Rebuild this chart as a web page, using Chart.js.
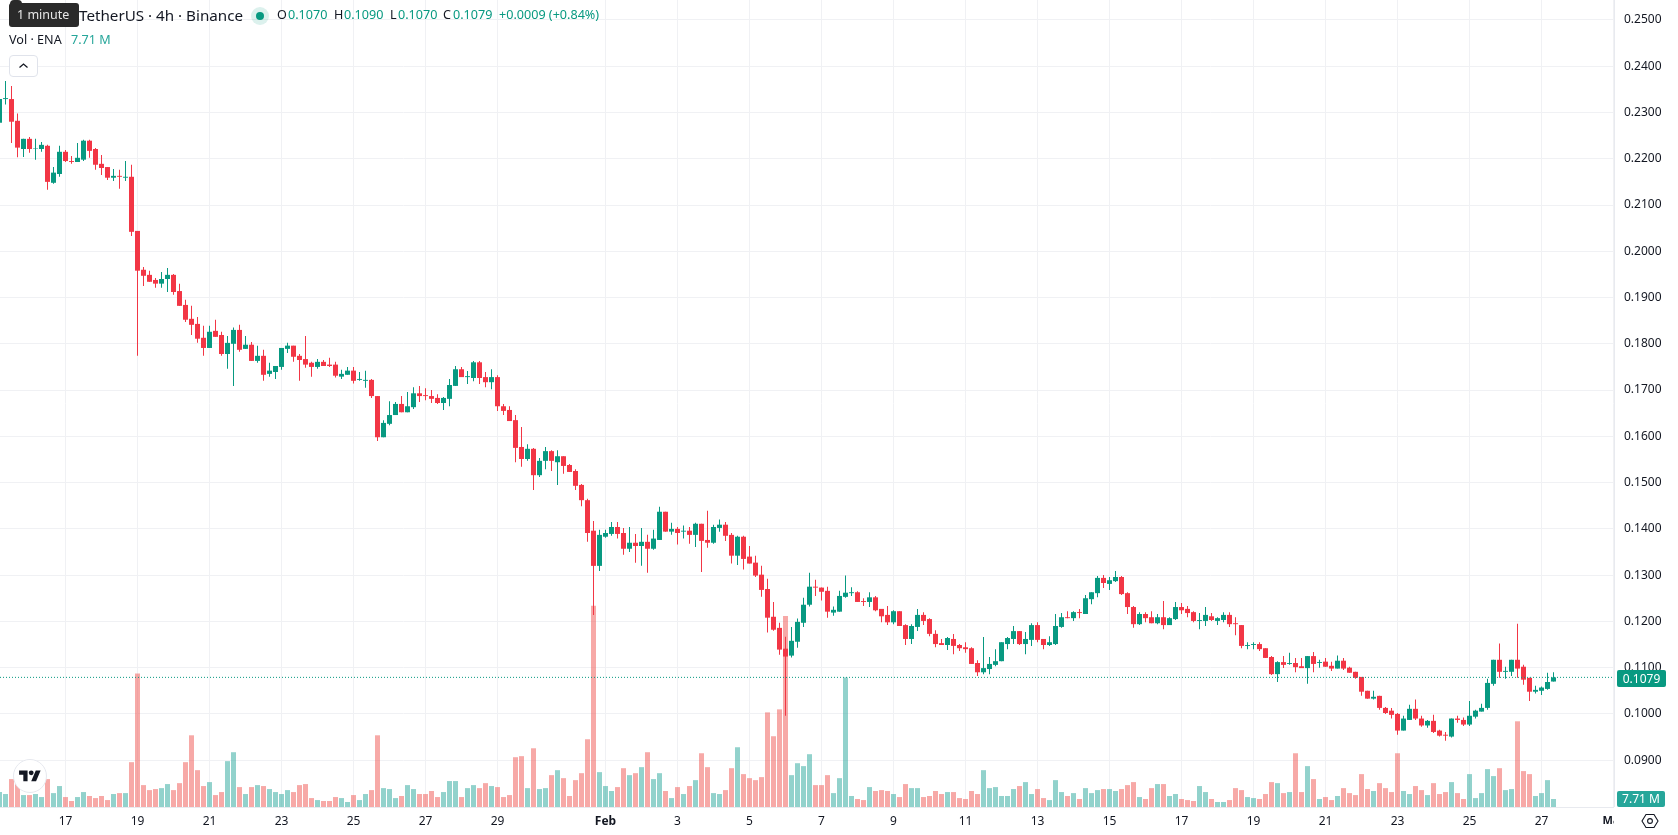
<!DOCTYPE html>
<html>
<head>
<meta charset="utf-8">
<title>ENA / TetherUS 4h</title>
<script src="https://cdn.jsdelivr.net/npm/chart.js@4/dist/chart.umd.min.js"></script>
<style>
  html, body { margin: 0; padding: 0; background: #fff; overflow: hidden; }
  #stage { position: relative; width: 1678px; height: 835px; font-family: "Noto Sans", sans-serif; color: #131722; }
  #stage canvas { position: absolute; left: 0; top: 0; }
  .t { position: absolute; white-space: nowrap; line-height: 1; }
  .up { color: #089981; }
  .box { position: absolute; color: #fff; font-size: 12px; text-align: center; border-radius: 2px; }
</style>
</head>
<body>
<div id="stage">
  <canvas id="chart" width="1678" height="835"></canvas>

  <span class="t" style="left:79px;top:8px;font-size:15.2px;">TetherUS · 4h · Binance</span>
  <div style="position:absolute;left:9px;top:3px;width:70px;height:24px;background:#2a2a2a;border-radius:3px;"></div>
  <div style="position:absolute;left:10px;top:0;width:12px;height:4px;background:#2a2a2a;border-radius:6px 6px 0 0;"></div>
  <span class="t" style="left:17px;top:9px;font-size:12.5px;color:#e6e6e6;">1 minute</span>

  <div style="position:absolute;left:251px;top:7px;width:18px;height:18px;border-radius:50%;background:rgba(8,153,129,.14);"></div>
  <div style="position:absolute;left:256px;top:12px;width:8px;height:8px;border-radius:50%;background:#089981;"></div>

  <span class="t" style="left:277px;top:9px;font-size:12.6px;">O</span><span class="t up" style="left:288px;top:9px;font-size:12.6px;">0.1070</span>
  <span class="t" style="left:334px;top:9px;font-size:12.6px;">H</span><span class="t up" style="left:344px;top:9px;font-size:12.6px;">0.1090</span>
  <span class="t" style="left:390px;top:9px;font-size:12.6px;">L</span><span class="t up" style="left:398px;top:9px;font-size:12.6px;">0.1070</span>
  <span class="t" style="left:443px;top:9px;font-size:12.6px;">C</span><span class="t up" style="left:453px;top:9px;font-size:12.6px;">0.1079</span>
  <span class="t up" style="left:499px;top:9px;font-size:12.6px;">+0.0009 (+0.84%)</span>

  <span class="t" style="left:9px;top:34px;font-size:12.6px;">Vol · ENA</span>
  <span class="t" style="left:71px;top:34px;font-size:12.6px;color:#26a69a;">7.71 M</span>

  <div style="position:absolute;left:9px;top:55px;width:27px;height:20px;border:1px solid #e0e3eb;border-radius:4px;background:#fff;">
    <svg width="27" height="20" viewBox="0 0 27 20"><path d="M9.5 11.5 L13.5 8 L17.5 11.5" fill="none" stroke="#131722" stroke-width="1.3"/></svg>
  </div>

  <div style="position:absolute;left:13px;top:759px;width:32px;height:32px;border-radius:50%;background:#fff;border:1px solid #e6e8ee;">
    <svg style="position:absolute;left:5px;top:8px;" width="22" height="17" viewBox="0 0 36 28">
      <path d="M14 22H7V11H0V4h14v18zM28 22h-8l7.5-18h8L28 22z" fill="#131722"/><circle cx="20" cy="8" r="4" fill="#131722"/>
    </svg>
  </div>

  <div class="box" style="left:1617px;top:670px;width:49px;height:17px;line-height:17px;background:#089981;">0.1079</div>
  <div class="box" style="left:1617px;top:791px;width:48px;height:16px;line-height:16px;background:#26a69a;">7.71 M</div>

  <div style="position:absolute;left:1614px;top:807px;width:64px;height:28px;background:#fff;">
    <svg style="position:absolute;left:27px;top:5px;" width="18" height="18" viewBox="0 0 18 18">
      <path d="M5 2.5h8L17 9l-4 6.5H5L1 9z" fill="none" stroke="#131722" stroke-width="1.1"/><circle cx="9" cy="9" r="2.4" fill="none" stroke="#131722" stroke-width="1.1"/>
    </svg>
  </div>
</div>

<script>
// 4h candles, oldest first; volumes in millions of ENA
const opens = [
  .2278,.2329,.2329,.2282,.2221,.2243,.2222,.2221,.2228,.2148,
  .2167,.2215,.2195,.2193,.2198,.2239,.2221,.2189,.2182,.2159,
  .2163,.2159,.2161,.2044,.1960,.1949,.1938,.1930,.1940,.1949,
  .1914,.1884,.1854,.1843,.1813,.1791,.1828,.1819,.1778,.1800,
  .1830,.1789,.1798,.1763,.1774,.1735,.1739,.1750,.1789,.1796,
  .1774,.1767,.1759,.1750,.1761,.1755,.1755,.1729,.1733,.1742,
  .1722,.1720,.1722,.1687,.1598,.1627,.1646,.1670,.1652,.1663,
  .1693,.1689,.1687,.1683,.1672,.1681,.1709,.1745,.1728,.1726,
  .1760,.1728,.1717,.1728,.1665,.1657,.1635,.1577,.1551,.1573,
  .1516,.1547,.1568,.1544,.1557,.1538,.1525,.1495,.1462,.1396,
  .1320,.1383,.1389,.1404,.1391,.1357,.1370,.1363,.1372,.1357,
  .1376,.1437,.1394,.1400,.1394,.1396,.1387,.1411,.1376,.1370,
  .1402,.1409,.1387,.1342,.1383,.1340,.1327,.1301,.1270,.1210,
  .1186,.1141,.1126,.1156,.1197,.1236,.1275,.1273,.1266,.1219,
  .1221,.1253,.1261,.1263,.1244,.1242,.1252,.1227,.1214,.1198,
  .1222,.1192,.1162,.1188,.1214,.1205,.1173,.1153,.1149,.1162,
  .1149,.1144,.1142,.1110,.1090,.1097,.1106,.1114,.1151,.1162,
  .1179,.1151,.1160,.1192,.1162,.1149,.1151,.1188,.1209,.1207,
  .1220,.1216,.1248,.1261,.1294,.1281,.1287,.1296,.1261,.1231,
  .1194,.1216,.1209,.1196,.1209,.1192,.1205,.1231,.1227,.1220,
  .1201,.1201,.1211,.1201,.1203,.1214,.1196,.1192,.1147,.1149,
  .1151,.1142,.1123,.1086,.1112,.1108,.1110,.1103,.1099,.1125,
  .1110,.1113,.1104,.1098,.1115,.1100,.1091,.1080,.1050,.1033,
  .1039,.1013,.1007,.1000,.0964,.0987,.1011,.0990,.0975,.0985,
  .0964,.0955,.0951,.0990,.0987,.0977,.0994,.1005,.1013,.1065,
  .1117,.1091,.1091,.1117,.1102,.1078,.1048,.1050,.1054,.1070
];
const highs = [
  .2335,.2368,.2357,.2298,.2243,.2247,.2243,.2236,.2230,.2182,
  .2228,.2219,.2206,.2234,.2241,.2241,.2223,.2208,.2182,.2178,
  .2176,.2195,.2187,.2044,.1966,.1958,.1942,.1955,.1964,.1951,
  .1930,.1895,.1882,.1858,.1839,.1839,.1852,.1826,.1817,.1835,
  .1841,.1817,.1804,.1796,.1787,.1759,.1752,.1791,.1802,.1796,
  .1778,.1817,.1761,.1767,.1765,.1770,.1761,.1744,.1750,.1750,
  .1739,.1742,.1724,.1687,.1635,.1676,.1674,.1687,.1696,.1706,
  .1709,.1704,.1700,.1691,.1685,.1724,.1752,.1750,.1741,.1763,
  .1763,.1739,.1745,.1732,.1670,.1665,.1646,.1620,.1583,.1575,
  .1553,.1577,.1570,.1570,.1557,.1540,.1529,.1497,.1465,.1417,
  .1398,.1398,.1415,.1415,.1402,.1404,.1389,.1402,.1387,.1398,
  .1448,.1437,.1413,.1404,.1407,.1404,.1413,.1411,.1439,.1409,
  .1420,.1415,.1391,.1385,.1385,.1363,.1342,.1320,.1292,.1242,
  .1197,.1167,.1188,.1206,.1251,.1305,.1290,.1273,.1275,.1232,
  .1266,.1299,.1274,.1265,.1250,.1263,.1255,.1227,.1233,.1224,
  .1222,.1194,.1194,.1227,.1220,.1207,.1181,.1162,.1166,.1173,
  .1151,.1155,.1144,.1116,.1166,.1123,.1140,.1155,.1166,.1190,
  .1179,.1177,.1196,.1198,.1162,.1168,.1216,.1218,.1222,.1222,
  .1227,.1257,.1263,.1298,.1300,.1296,.1309,.1298,.1263,.1233,
  .1220,.1220,.1222,.1216,.1244,.1209,.1242,.1240,.1233,.1222,
  .1218,.1231,.1218,.1209,.1220,.1220,.1209,.1192,.1155,.1155,
  .1155,.1142,.1125,.1114,.1125,.1132,.1121,.1121,.1125,.1134,
  .1117,.1121,.1113,.1126,.1121,.1102,.1091,.1080,.1050,.1050,
  .1039,.1015,.1013,.1002,.0996,.1020,.1031,.0996,.0987,.0998,
  .0966,.0961,.0990,.0996,.0992,.1028,.1009,.1022,.1076,.1117,
  .1152,.1102,.1117,.1195,.1106,.1078,.1061,.1059,.1089,.1090
];
const lows = [
  .2260,.2317,.2234,.2203,.2204,.2213,.2198,.2215,.2133,.2146,
  .2161,.2193,.2189,.2193,.2195,.2202,.2176,.2165,.2154,.2152,
  .2135,.2152,.2033,.1774,.1925,.1934,.1921,.1921,.1912,.1906,
  .1882,.1847,.1819,.1802,.1774,.1791,.1815,.1774,.1746,.1709,
  .1783,.1789,.1763,.1759,.1720,.1729,.1724,.1744,.1780,.1761,
  .1720,.1748,.1729,.1746,.1752,.1750,.1727,.1724,.1733,.1714,
  .1720,.1705,.1683,.1590,.1598,.1624,.1646,.1652,.1652,.1659,
  .1674,.1678,.1672,.1670,.1657,.1665,.1709,.1728,.1713,.1719,
  .1713,.1706,.1702,.1655,.1646,.1633,.1544,.1534,.1547,.1484,
  .1512,.1529,.1525,.1495,.1519,.1523,.1484,.1449,.1372,.1214,
  .1309,.1381,.1385,.1379,.1344,.1350,.1327,.1320,.1305,.1355,
  .1376,.1394,.1387,.1366,.1379,.1368,.1361,.1307,.1359,.1368,
  .1394,.1374,.1325,.1322,.1312,.1325,.1296,.1253,.1176,.1180,
  .1128,.0996,.1122,.1143,.1188,.1232,.1255,.1245,.1208,.1212,
  .1221,.1251,.1255,.1242,.1233,.1231,.1222,.1198,.1192,.1194,
  .1190,.1149,.1151,.1179,.1192,.1168,.1144,.1149,.1138,.1129,
  .1136,.1132,.1108,.1082,.1086,.1086,.1103,.1114,.1140,.1151,
  .1149,.1129,.1147,.1155,.1140,.1147,.1149,.1186,.1207,.1201,
  .1207,.1216,.1237,.1252,.1272,.1268,.1285,.1257,.1216,.1186,
  .1192,.1198,.1196,.1194,.1183,.1192,.1203,.1216,.1209,.1198,
  .1183,.1190,.1201,.1192,.1198,.1188,.1170,.1142,.1140,.1140,
  .1136,.1121,.1084,.1069,.1099,.1106,.1090,.1099,.1065,.1090,
  .1100,.1102,.1093,.1098,.1095,.1089,.1076,.1039,.1033,.1031,
  .1009,.1000,.0990,.0955,.0964,.0987,.0987,.0972,.0970,.0959,
  .0951,.0942,.0949,.0981,.0974,.0974,.0990,.1005,.1009,.1061,
  .1078,.1076,.1082,.1078,.1063,.1028,.1044,.1041,.1052,.1070
];
const closes = [
  .2329,.2331,.2280,.2224,.2243,.2221,.2223,.2230,.2150,.2170,
  .2215,.2195,.2193,.2202,.2239,.2217,.2187,.2180,.2159,.2163,
  .2161,.2161,.2042,.1958,.1947,.1934,.1930,.1940,.1949,.1912,
  .1882,.1852,.1841,.1811,.1791,.1826,.1815,.1778,.1802,.1830,
  .1787,.1798,.1763,.1774,.1733,.1742,.1752,.1791,.1796,.1772,
  .1765,.1755,.1750,.1761,.1752,.1752,.1731,.1735,.1742,.1720,
  .1724,.1722,.1687,.1598,.1629,.1646,.1670,.1652,.1665,.1693,
  .1687,.1687,.1681,.1672,.1683,.1711,.1745,.1728,.1730,.1760,
  .1726,.1717,.1728,.1665,.1655,.1633,.1575,.1551,.1573,.1516,
  .1547,.1568,.1547,.1557,.1536,.1523,.1493,.1462,.1391,.1320,
  .1387,.1391,.1404,.1389,.1357,.1370,.1363,.1372,.1357,.1379,
  .1437,.1394,.1400,.1391,.1396,.1387,.1411,.1374,.1370,.1404,
  .1409,.1385,.1342,.1383,.1335,.1325,.1299,.1268,.1208,.1182,
  .1139,.1124,.1158,.1199,.1236,.1275,.1273,.1264,.1221,.1225,
  .1255,.1262,.1263,.1242,.1242,.1252,.1224,.1211,.1198,.1222,
  .1190,.1162,.1190,.1214,.1201,.1173,.1151,.1149,.1164,.1147,
  .1142,.1140,.1108,.1090,.1099,.1108,.1114,.1155,.1164,.1179,
  .1151,.1162,.1192,.1160,.1149,.1155,.1190,.1209,.1207,.1220,
  .1218,.1250,.1263,.1294,.1283,.1289,.1296,.1259,.1231,.1194,
  .1216,.1207,.1196,.1209,.1192,.1207,.1231,.1224,.1218,.1201,
  .1203,.1214,.1203,.1207,.1214,.1194,.1194,.1147,.1149,.1151,
  .1140,.1121,.1086,.1112,.1106,.1110,.1101,.1099,.1125,.1108,
  .1112,.1102,.1098,.1115,.1098,.1089,.1078,.1048,.1033,.1037,
  .1013,.1002,.0998,.0964,.0990,.1011,.0990,.0975,.0985,.0961,
  .0953,.0953,.0990,.0987,.0977,.0996,.1007,.1013,.1067,.1117,
  .1091,.1093,.1117,.1098,.1074,.1048,.1052,.1057,.1069,.1079
];
const volumes = [
  14.4,12.5,26.9,22.1,11.5,11.5,12.5,9.6,26.9,13.4,
  20.2,9.6,5.8,9.6,14.4,10.6,8.6,10.6,6.7,12.5,
  13.4,13.4,43.2,128.6,21.1,16.3,17.3,18.2,22.1,16.3,
  23.0,43.2,69.1,35.5,20.2,24.0,11.5,14.4,44.2,52.8,
  19.2,12.5,19.2,21.1,20.2,17.3,14.4,12.5,16.3,14.4,
  21.1,22.1,8.6,6.7,5.8,5.8,9.6,8.6,4.8,11.5,
  6.7,12.5,16.3,69.1,18.2,17.3,8.6,10.6,21.1,17.3,
  12.5,12.5,15.4,9.6,14.4,25.0,25.0,9.6,18.2,21.1,
  18.2,23.0,20.2,19.2,9.6,11.5,48.0,49.0,18.2,56.6,
  17.3,18.2,30.7,35.5,27.8,10.6,25.9,32.6,65.3,194,
  33.6,20.2,15.4,19.2,37.4,30.7,32.6,38.4,52.8,26.9,
  32.6,15.4,8.6,19.2,12.5,20.2,25.9,51.8,38.4,13.4,
  12.5,16.3,37.4,57.6,31.7,27.8,25.9,28.8,91.2,68.2,
  94.1,184,30.7,42.2,39.4,50.9,21.1,21.1,30.7,13.4,
  27.8,124.8,10.6,7.7,6.7,19.2,15.4,16.3,15.4,12.5,
  9.6,22.1,18.2,18.2,9.6,10.6,15.4,12.5,14.4,14.4,
  8.6,7.7,15.4,12.5,35.5,18.2,19.2,10.6,10.6,17.3,
  20.2,24.0,12.5,17.3,8.6,6.7,25.9,14.4,10.6,13.4,
  7.7,18.2,13.4,16.3,17.3,17.3,15.4,17.3,21.1,24.0,
  9.6,7.7,18.2,22.1,22.1,10.6,12.5,7.7,6.7,5.8,
  20.2,14.4,7.7,4.8,4.8,6.7,18.2,16.3,9.6,8.6,
  7.7,12.5,24.0,23.0,13.4,14.4,51.8,14.4,39.4,26.9,
  7.7,9.6,6.7,10.6,18.2,13.4,11.5,31.7,17.3,15.4,
  23.0,18.2,14.4,51.8,15.4,12.5,20.2,16.3,11.5,23.0,
  12.5,14.4,24.0,13.4,7.7,31.7,8.6,13.4,36.5,29.8,
  37.4,16.3,17.3,82.6,34.6,31.7,10.6,13.4,25.9,7.71
];
const lastPrice = 0.1079;
const priceTicks = [0.09,0.10,0.11,0.12,0.13,0.14,0.15,0.16,0.17,0.18,0.19,0.20,0.21,0.22,0.23,0.24,0.25];
const dateLabels = ['17','19','21','23','25','27','29','Feb','3','5','7','9','11','13','15','17','19','21','23','25','27','Mar'];
const dateCandles = [11,23,35,47,59,71,83,101,113,125,137,149,161,173,185,197,209,221,233,245,257,269];

const RED = '#f23645', GREEN = '#089981';
const VOL_RED = 'rgba(239,83,80,.5)', VOL_GREEN = 'rgba(38,166,154,.5)';
const GRID = '#f0f1f4', FONT = '"Noto Sans", sans-serif';
const indexMin = 1 / 12, indexMax = 269 + 1 / 12;

const index = opens.map((_, i) => i);
const isUp = i => closes[i] >= opens[i];
const candleColors = index.map(i => isUp(i) ? GREEN : RED);
const volumeColors = index.map(i => isUp(i) ? VOL_GREEN : VOL_RED);

new Chart(document.getElementById('chart'), {
  type: 'bar',
  data: {
    datasets: [
      { label: 'Volume', yAxisID: 'vol', order: 3, barThickness: 5,
        backgroundColor: volumeColors,
        data: index.map(i => ({ x: i, y: volumes[i] })) },
      { label: 'High-Low', yAxisID: 'y', order: 2, barThickness: 1,
        backgroundColor: candleColors,
        data: index.map(i => ({ x: i, y: [lows[i], highs[i]] })) },
      { label: 'Open-Close', yAxisID: 'y', order: 1, barThickness: 5,
        backgroundColor: candleColors,
        data: index.map(i => ({ x: i, y: [opens[i], closes[i]] })) },
      { type: 'line', label: 'Last', yAxisID: 'y', order: 0,
        borderColor: GREEN, borderWidth: 1, borderDash: [1, 2],
        pointRadius: 0,
        data: [{ x: indexMin, y: lastPrice }, { x: indexMax, y: lastPrice }] }
    ]
  },
  options: {
    responsive: false,
    animation: false,
    events: [],
    layout: { padding: 0 },
    datasets: { bar: { grouped: false, borderWidth: 0, borderSkipped: false, inflateAmount: 0 } },
    plugins: { legend: { display: false }, tooltip: { enabled: false }, title: { display: false } },
    scales: {
      x: {
        type: 'linear', offset: false, bounds: 'data',
        min: indexMin, max: indexMax,
        afterBuildTicks: s => { s.ticks = dateCandles.map(v => ({ value: v })); },
        afterFit: s => { s.height = 28; s.paddingLeft = 0; s.paddingRight = 0; },
        grid: { offset: false, color: GRID, drawTicks: false },
        border: { display: true, color: '#e8eaef' },
        ticks: {
          autoSkip: false, maxRotation: 0, padding: 7, color: '#131722',
          callback: v => dateLabels[dateCandles.indexOf(v)],
          font: c => {
            const name = c.tick ? dateLabels[dateCandles.indexOf(c.tick.value)] : '';
            return { family: FONT, size: name === 'Mar' ? 11 : 12, weight: (name === 'Feb' || name === 'Mar') ? 'bold' : 'normal' };
          }
        }
      },
      y: {
        position: 'right',
        min: 0.07988, max: 0.25431, bounds: 'data',
        afterBuildTicks: s => { s.ticks = priceTicks.map(v => ({ value: v })); },
        afterFit: s => { s.width = 64; s.paddingTop = 0; s.paddingBottom = 0; },
        grid: { color: GRID, drawTicks: false },
        border: { display: true, color: '#e8eaef' },
        ticks: {
          padding: 10, color: '#131722', font: { family: FONT, size: 12 },
          callback: v => v.toFixed(4)
        }
      },
      vol: { display: false, position: 'right', min: 0, max: 777.8 }
    }
  }
});
</script>
</body>
</html>
